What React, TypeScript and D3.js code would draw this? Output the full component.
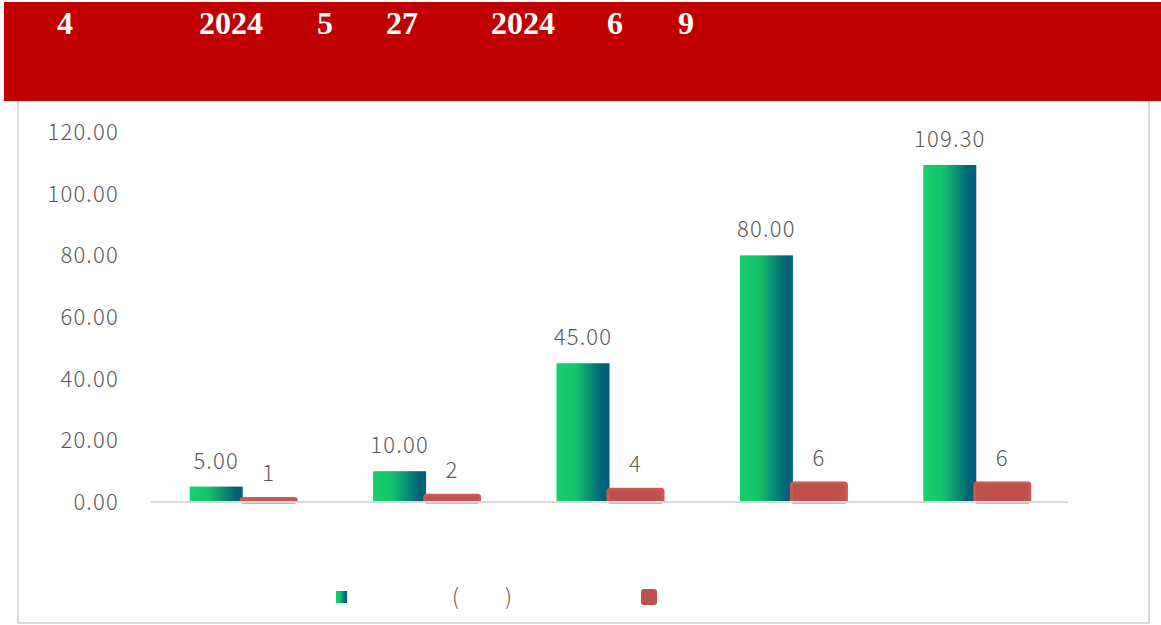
import React, { useEffect, useRef } from 'react';
import * as d3 from 'd3';

// title pieces (the CJK glyphs in the source did not render, only these survive)
const titleParts = ['4', '2024', '5', '27', '2024', '6', '9'];
const categories = ['c1', 'c2', 'c3', 'c4', 'c5'];
const amounts = [5.0, 10.0, 45.0, 80.0, 109.3];
const counts = [1, 2, 4, 6, 6];
const yTicks = [0, 20, 40, 60, 80, 100, 120];

const W = 1161;
const H = 625;
const FONT = '"Noto Sans CJK SC", "Noto Sans", sans-serif';

const App: React.FC = () => {
  const svgRef = useRef<SVGSVGElement>(null);

  useEffect(() => {
    if (!svgRef.current) return;
    const svg = d3.select(svgRef.current);
    svg.selectAll('*').remove();

    const defs = svg.append('defs');
    const grad = defs.append('linearGradient')
      .attr('id', 'greenGrad')
      .attr('x1', '0%').attr('x2', '100%').attr('y1', '0%').attr('y2', '0%');
    grad.append('stop').attr('offset', '0%').attr('stop-color', '#17cf6b');
    grad.append('stop').attr('offset', '35%').attr('stop-color', '#14c56c');
    grad.append('stop').attr('offset', '85%').attr('stop-color', '#006478');
    grad.append('stop').attr('offset', '100%').attr('stop-color', '#005e7c');

    // panel
    svg.append('rect')
      .attr('x', 18).attr('y', 90)
      .attr('width', 1131).attr('height', 533)
      .attr('fill', '#fff')
      .attr('stroke', '#d9d9d9')
      .attr('stroke-width', 2);

    // header band
    svg.append('rect')
      .attr('x', 4).attr('y', 2)
      .attr('width', W - 4).attr('height', 99)
      .attr('fill', '#c00000');

    const titleX = [57, 199, 317, 386, 491, 607, 678];
    const title = svg.append('text')
      .attr('y', 34)
      .attr('fill', '#fff')
      .style('font-family', '"Liberation Serif", "Times New Roman", serif')
      .style('font-weight', 'bold')
      .style('font-size', '32px');
    titleParts.forEach((t, i) => {
      title.append('tspan').attr('x', titleX[i]).text(t);
    });

    const y = d3.scaleLinear().domain([0, 120]).range([502, 132]);
    const x = d3.scaleBand().domain(categories).range([151, 1068]).padding(0);
    const barW = 53;

    const label = (sel: any) => sel
      .attr('fill', '#595959')
      .style('font-family', FONT)
      .style('font-weight', 300)
      .style('font-size', '22px')
      .style('letter-spacing', '1.2px');

    // y tick labels
    svg.append('g')
      .selectAll('text')
      .data(yTicks)
      .join('text')
      .attr('x', 119)
      .attr('y', d => y(d))
      .attr('dy', '0.36em')
      .attr('text-anchor', 'end')
      .call(label)
      .text(d => d3.format('.2f')(d));

    const cx = (i: number) => (x(categories[i]) as number) + x.bandwidth() / 2;

    // green bars
    svg.append('g')
      .selectAll('rect')
      .data(amounts)
      .join('rect')
      .attr('x', (d, i) => cx(i) - barW)
      .attr('y', d => y(d))
      .attr('width', barW)
      .attr('height', d => y(0) - y(d))
      .attr('fill', 'url(#greenGrad)');

    // red bars (rounded)
    svg.append('g')
      .selectAll('rect')
      .data(counts)
      .join('rect')
      .attr('x', (d, i) => cx(i) - 1.5)
      .attr('y', d => y(d) - 0.5)
      .attr('width', barW + 2)
      .attr('height', d => y(0) - y(d) + 0.5)
      .attr('rx', 2)
      .attr('fill', '#c0504d')
      .attr('stroke', '#c75a57')
      .attr('stroke-width', 3);

    // axis line
    svg.append('line')
      .attr('x1', 151).attr('x2', 1068)
      .attr('y1', y(0)).attr('y2', y(0))
      .attr('stroke', '#d9d9d9')
      .attr('stroke-width', 2);

    // labels
    svg.append('g')
      .selectAll('text')
      .data(amounts)
      .join('text')
      .attr('x', (d, i) => cx(i) - barW / 2)
      .attr('y', d => y(d) - 18)
      .attr('text-anchor', 'middle')
      .call(label)
      .text(d => d3.format('.2f')(d));

    svg.append('g')
      .selectAll('text')
      .data(counts)
      .join('text')
      .attr('x', (d, i) => cx(i) + 26)
      .attr('y', d => y(d) - 18)
      .attr('text-anchor', 'middle')
      .call(label)
      .text(d => String(d));

    // legend
    svg.append('rect')
      .attr('x', 336).attr('y', 591)
      .attr('width', 11).attr('height', 12)
      .attr('fill', 'url(#greenGrad)');
    const lg = svg.append('text')
      .attr('y', 597)
      .attr('dy', '0.36em')
      .call(label);
    lg.append('tspan').attr('x', 452).text('(');
    lg.append('tspan').attr('x', 505).text(')');
    svg.append('rect')
      .attr('x', 641).attr('y', 589)
      .attr('width', 16).attr('height', 16)
      .attr('rx', 3)
      .attr('fill', '#c0504d');
  }, []);

  return (
    <div style={{ position: 'absolute', left: 0, top: 0 }}>
      <svg ref={svgRef} width={W} height={H} />
    </div>
  );
};

export default App;
